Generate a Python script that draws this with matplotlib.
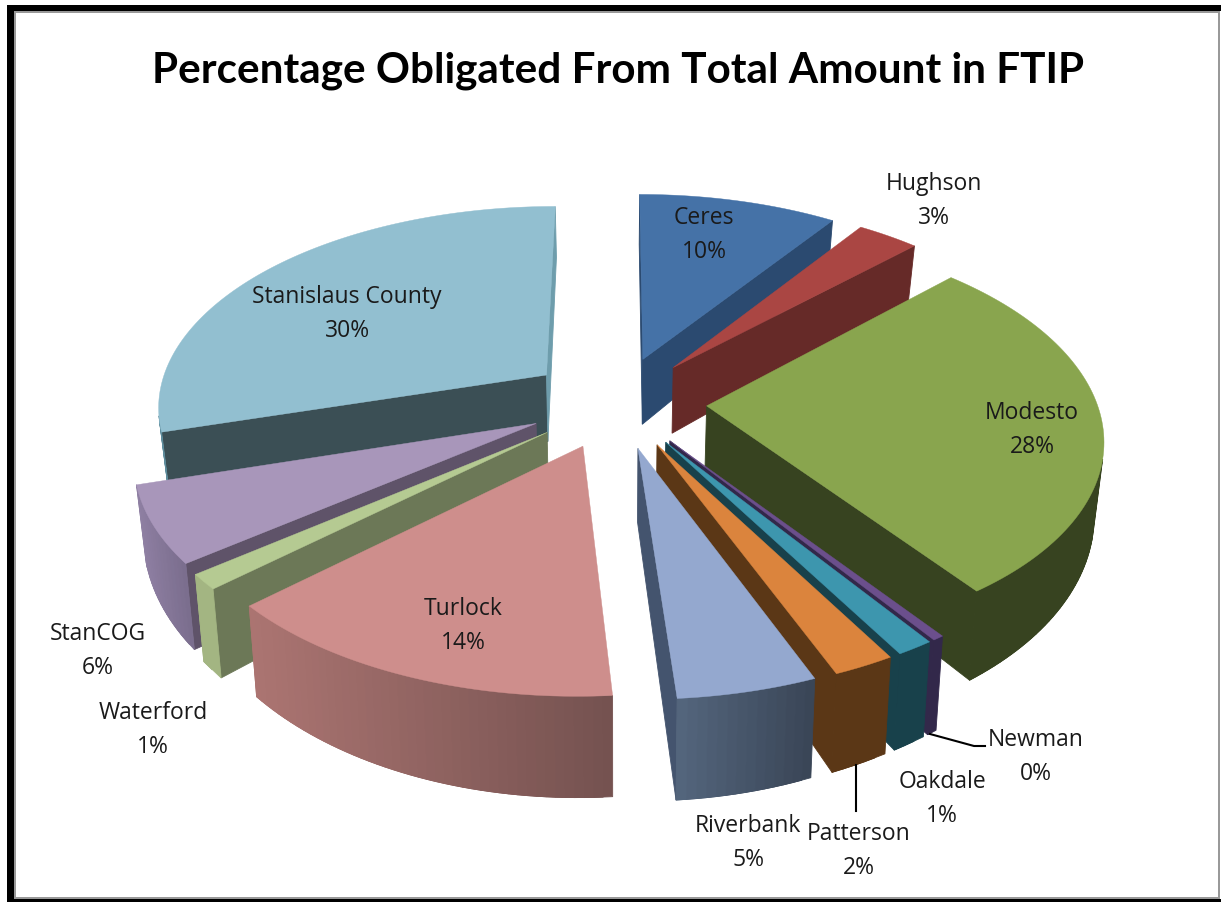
import numpy as np
import matplotlib
matplotlib.use("Agg")
import matplotlib.pyplot as plt
from matplotlib.patches import Polygon, Rectangle

# ---- data ----
categories = ["Ceres", "Hughson", "Modesto", "Newman", "Oakdale", "Patterson",
              "Riverbank", "Turlock", "Waterford", "StanCOG", "Stanislaus County"]
values = [9.6, 3.0, 27.5, 0.4, 1.3, 2.15, 4.85, 14.4, 1.2, 6.0, 29.6]
pct_labels = ["10%", "3%", "28%", "0%", "1%", "2%", "5%", "14%", "1%", "6%", "30%"]

# ---- styles ----
top_colors = ["#4572A7", "#AA4643", "#89A54E", "#6B4F8C", "#3D96AE", "#DB843D",
              "#94A8CF", "#CE8E8C", "#B5CA92", "#A896BA", "#92BFD0"]
radial_start = ["#2B4A70", "#662A28", "#374320", "#32284A", "#18414B", "#5B3716",
                "#3F4F68", "#7B5451", "#6C7857", "#5F5369", "#3B4F55"]
radial_end = ["#2B4A70", "#662A28", "#374320", "#32284A", "#18414B", "#5B3716",
              "#44546E", "#7B5451", "#6C7857", "#5F5369", "#6E9DAC"]
arc_light = ["#2B4A70", "#662A28", "#374320", "#32284A", "#18414B", "#5B3716",
             "#55677F", "#AC7572", "#A3B582", "#8F80A3", "#5E8C9C"]
arc_dark = ["#2B4A70", "#662A28", "#374320", "#32284A", "#18414B", "#5B3716",
            "#3A4657", "#755250", "#A3B582", "#7B6E8E", "#5E8C9C"]

label_pos = {"Ceres": (704, 235), "Hughson": (934, 201), "Modesto": (1032, 430),
             "Newman": (1036, 757), "Oakdale": (942, 799), "Patterson": (859, 851),
             "Riverbank": (748, 843), "Turlock": (463, 626), "Waterford": (153, 730),
             "StanCOG": (98, 651), "Stanislaus County": (347, 314)}
leaders = {"Newman": [(930, 735), (974, 747), (985, 747)],
           "Patterson": [(856, 766), (856, 812)]}

CX, CY, R, TILT, K, EXPLODE, H = 617.0, 403.0, 390.0, 0.513, 0.144, 0.23, 69.0

fig = plt.figure(figsize=(12.21, 9.03), dpi=100)
ax = fig.add_axes([0, 0, 1, 1])
ax.set_xlim(0, 1221)
ax.set_ylim(903, 0)
ax.axis("off")


def project(x, y, z=0.0):
    """World disc coordinates (y toward the back) to pixels; z is depth below the top."""
    s = 1.0 / (1.0 + K * y)
    px = CX + R * x * s
    py = CY - R * TILT * y * s
    if z:
        px = CX + (px - CX) * (1 - 0.02 * z)
        py = py + H * z * s ** 2
    return np.array([px, py])


def lerp_color(c1, c2, t):
    a = np.array(matplotlib.colors.to_rgb(c1))
    b = np.array(matplotlib.colors.to_rgb(c2))
    return tuple(a + (b - a) * t)


def area(q):
    q = np.asarray(q)
    x, y = q[:, 0], q[:, 1]
    return 0.5 * np.sum(x * np.roll(y, -1) - np.roll(x, -1) * y)


fracs = np.array(values) / np.sum(values)
edges = np.concatenate([[0], np.cumsum(fracs)]) * 2 * np.pi
wedges = []
for i in range(len(values)):
    a0, a1 = edges[i], edges[i + 1]
    mid = (a0 + a1) / 2
    ox, oy = EXPLODE * np.sin(mid), EXPLODE * np.cos(mid)
    wedges.append((oy, i, a0, a1, ox))
wedges.sort(key=lambda w: -w[0])

for order, (oy, i, a0, a1, ox) in enumerate(wedges):
    z = 2 + order
    th = np.linspace(a0, a1, max(3, int((a1 - a0) / 0.02)))
    wx, wy = ox + np.sin(th), oy + np.cos(th)
    top = [project(ox, oy)] + [project(a, b) for a, b in zip(wx, wy)]
    bot = [project(ox, oy, 1)] + [project(a, b, 1) for a, b in zip(wx, wy)]
    n = len(top)
    # radial walls
    for a, b, col in ((0, 1, radial_start[i]), (n - 1, 0, radial_end[i])):
        q = [top[a], top[b], bot[b], bot[a]]
        if area(q) < 0:
            ax.add_patch(Polygon(q, closed=True, fc=col, ec=col, lw=0.6, zorder=z))
    # outer wall, shaded from left to right; each strip overlaps the next to avoid seams
    xs = [p[0] for p in top[1:]]
    xmin, xmax = min(xs), max(xs)
    for j in range(1, n - 1):
        q = [top[j], top[j + 1], bot[j + 1], bot[j]]
        if area(q) < 0:
            k = min(j + 2, n - 1)
            q2 = [top[j], top[k], bot[k], bot[j]]
            t = (top[j][0] - xmin) / max(xmax - xmin, 1)
            c = lerp_color(arc_light[i], arc_dark[i], t)
            ax.add_patch(Polygon(q2, closed=True, fc=c, ec=c, lw=0.6, zorder=z))
    ax.add_patch(Polygon(top, closed=True, fc=top_colors[i], ec=top_colors[i], lw=0.3, zorder=z + 0.5))

fam = ["Open Sans", "DejaVu Sans"]
for name, pct in zip(categories, pct_labels):
    x, y = label_pos[name]
    ax.text(x, y, name + "\n" + pct, ha="center", va="center", fontsize=16.5,
            family=fam, color="#1a1a1a", linespacing=1.53, zorder=50)
for name, pts in leaders.items():
    p = np.array(pts)
    ax.plot(p[:, 0], p[:, 1], color="black", lw=1.5, zorder=40)

ax.text(618, 71, "Percentage Obligated From Total Amount in FTIP", ha="center", va="center",
        fontsize=30.4, fontweight="bold", family=["Lato", "DejaVu Sans"], color="black", zorder=50)

# chart frame: heavy on top, left and bottom, thin grey inside
for (x0, y0, w, h, col) in [(14, 12, 2, 888, "#999999"), (14, 12, 1206, 2, "#999999"),
                            (1218, 12, 2, 888, "#999999"), (14, 898, 1206, 2, "#999999"),
                            (7, 6, 7, 897, "black"), (7, 6, 1214, 6, "black"),
                            (7, 900.5, 1214, 2.5, "black")]:
    ax.add_patch(Rectangle((x0, y0), w, h, fc=col, ec="none", zorder=60))

fig.savefig("out.png", dpi=100, facecolor="white")
